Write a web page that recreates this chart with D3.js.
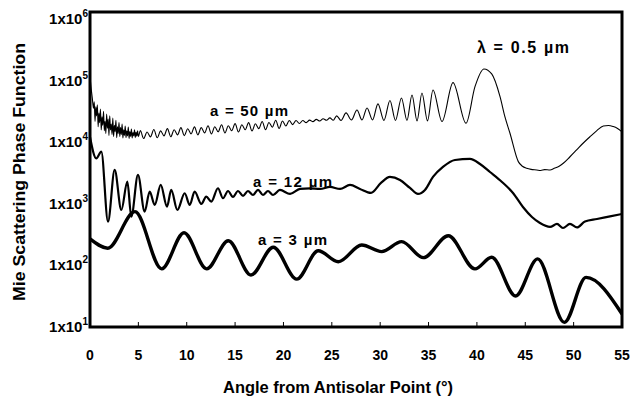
<!DOCTYPE html>
<html>
<head>
<meta charset="utf-8">
<script src="https://cdn.jsdelivr.net/npm/d3@7"></script>
<style>
  body { margin: 0; background: #fff; }
  svg text { font-family: Arial, "Liberation Sans", sans-serif; font-weight: bold; fill: #000; }
</style>
</head>
<body>
<svg id="chart" width="635" height="398"></svg>
<script>
// axis ticks
const xTicks = [0, 5, 10, 15, 20, 25, 30, 35, 40, 45, 50, 55]
const yTicks = [1e1, 1e2, 1e3, 1e4, 1e5, 1e6]

// [angle (deg), phase function]
const a3um = [
  [0, 270], [1.83, 191], [4.65, 750], [7.41, 88], [9.72, 341], [12.06, 88], [14.3, 253],
  [16.64, 70], [18.95, 198], [21.37, 60], [23.6, 174], [25.67, 115], [28.09, 215],
  [30.15, 168], [32.22, 244], [34.46, 134], [37.04, 305], [39.8, 88], [41.53, 136],
  [44.0, 32], [46.28, 128], [49.04, 11.9], [51.28, 64], [55, 16.3],
]

const a12um = [
  [0, 12300], [0.65, 5530], [1.17, 7080], [1.86, 515], [2.55, 3570], [3.24, 798], [3.86, 2305],
  [4.27, 621], [4.96, 2965], [5.65, 750], [6.17, 1585], [6.69, 964], [7.31, 2037], [7.96, 904],
  [8.4, 1690], [9.03, 798], [9.79, 1493], [10.31, 964], [10.82, 1585], [11.51, 1000],
  [12.02, 1315], [12.54, 1090], [13.23, 1800], [13.75, 1238], [14.27, 1626], [14.78, 1300],
  [15.3, 1626], [15.82, 1349], [16.33, 1626], [16.85, 1400], [17.37, 1690], [17.88, 1400],
  [18.4, 1626], [18.92, 1400], [19.64, 1690], [20.68, 1455], [21.71, 1754], [22.74, 1786],
  [23.78, 1754], [24.81, 1890], [25.85, 1754], [26.88, 2037], [27.91, 1754], [29.05, 1510],
  [30.08, 2195], [31.01, 2750], [32.05, 2455], [33.08, 1820], [33.91, 1455], [34.63, 1690],
  [35.46, 2750], [36.49, 4000], [37.73, 5190], [39.28, 5390], [40.32, 4470], [41.35, 3310],
  [42.59, 2280], [43.73, 1510], [44.76, 894], [45.69, 615], [46.52, 491], [47.56, 423],
  [48.28, 473], [48.9, 407], [49.62, 473], [50.35, 415], [51.17, 519], [52.41, 570],
  [53.76, 627], [55, 687],
]

const a50um = [
  [0, 120500], [0.12, 75000], [0.24, 52000], [0.36, 36000], [0.44, 46000], [0.52, 22000],
  [0.6, 38000], [0.68, 27000], [0.76, 41000], [0.84, 18000], [0.92, 30000], [1.0, 21000],
  [1.08, 35000], [1.16, 16000], [1.24, 26000], [1.32, 19000], [1.4, 32000], [1.48, 15500],
  [1.56, 22000], [1.64, 14000], [1.72, 29000], [1.8, 17000], [1.88, 24000], [1.96, 13000],
  [2.04, 27000], [2.12, 16000], [2.2, 20000], [2.28, 13500], [2.36, 25000], [2.44, 12500],
  [2.52, 19000], [2.6, 15000], [2.68, 23000], [2.76, 12000], [2.84, 18000], [2.92, 14000],
  [3.0, 21000], [3.08, 12500], [3.16, 17500], [3.24, 13500], [3.32, 20000], [3.4, 11800],
  [3.48, 16000], [3.56, 13000], [3.64, 18500], [3.72, 12000], [3.8, 15500], [3.88, 12800],
  [3.96, 17800], [4.04, 11600], [4.12, 15000], [4.2, 12500], [4.28, 16500], [4.36, 11800],
  [4.44, 14500], [4.52, 12800], [4.6, 16000], [4.68, 12000], [4.76, 14800], [4.84, 12600],
  [4.92, 15500], [5.0, 12400], [5.2, 15600], [5.55, 11600], [5.9, 14800], [6.25, 12300],
  [6.6, 16200], [6.95, 11900], [7.3, 15400], [7.65, 12800], [8.0, 16800], [8.35, 12400],
  [8.7, 16100], [9.05, 13300], [9.4, 17400], [9.75, 12900], [10.1, 16700], [10.45, 13800],
  [10.8, 17900], [11.15, 13300], [11.5, 17400], [11.85, 14300], [12.2, 18700], [12.55, 13800],
  [12.9, 18000], [13.25, 14900], [13.6, 19400], [13.95, 14300], [14.3, 18700], [14.65, 15500],
  [15.0, 20200], [15.35, 14800], [15.7, 19400], [16.05, 16100], [16.4, 21000], [16.75, 15400],
  [17.1, 20100], [17.45, 16800], [17.8, 21900], [18.15, 16100], [18.5, 21100], [18.85, 17700],
  [19.2, 23000], [19.55, 16900], [19.9, 22300], [20.25, 18500], [20.6, 22700], [20.95, 19500],
  [21.3, 22800], [21.65, 20300], [22.0, 22800], [22.35, 21000], [22.7, 23100], [23.05, 21800],
  [23.4, 23700], [23.75, 22300], [24.1, 24300], [24.45, 22900], [24.8, 25100], [25.15, 22900],
  [25.5, 27000], [25.95, 22800], [26.47, 30200], [27.03, 23200], [27.6, 33700], [28.12, 23200],
  [28.64, 36400], [29.21, 23200], [29.77, 42300], [30.39, 22800], [31.01, 48200], [31.58, 22800],
  [32.2, 52900], [32.77, 22800], [33.29, 59200], [33.81, 22400], [34.32, 63800], [34.89, 22400],
  [35.46, 71400], [36.39, 21900], [37.53, 93800], [38.87, 20500], [39.8, 80700], [40.73, 156700],
  [41.53, 130000], [42.39, 55600], [42.9, 26000], [43.42, 14100], [44.28, 4880], [44.7, 4100],
  [45.15, 3800], [45.6, 3650], [46.18, 3570], [46.6, 3500], [47.0, 3620], [47.56, 3570],
  [48.0, 3800], [48.5, 4100], [48.93, 4590], [49.6, 5800], [50.31, 7560], [51.0, 9800],
  [51.69, 12400], [52.4, 15600], [53.07, 18500], [53.6, 18900], [54.1, 18100], [54.5, 17000],
  [54.97, 15000],
]

const width = 635
const height = 398
const margin = { top: 12, right: 13, bottom: 71, left: 90 }

const svg = d3.select('#chart')

const x = d3.scaleLinear()
  .domain([0, 55])
  .range([margin.left, width - margin.right])

const y = d3.scaleLog()
  .domain([10, 1.32e6])
  .range([height - margin.bottom, margin.top])

svg.append('defs').append('clipPath').attr('id', 'plot')
  .append('rect')
    .attr('x', margin.left).attr('y', margin.top)
    .attr('width', width - margin.left - margin.right)
    .attr('height', height - margin.top - margin.bottom)

const line = d3.line()
  .x((d) => x(d[0]))
  .y((d) => y(d[1]))
  .curve(d3.curveMonotoneX)

const curves = svg.append('g').attr('clip-path', 'url(#plot)')
curves.append('path').datum(a50um)
  .attr('d', line).attr('fill', 'none').attr('stroke', '#000').attr('stroke-width', 1.1)
curves.append('path').datum(a12um)
  .attr('d', line).attr('fill', 'none').attr('stroke', '#000').attr('stroke-width', 2.2)
curves.append('path').datum(a3um)
  .attr('d', line).attr('fill', 'none').attr('stroke', '#000').attr('stroke-width', 3.4)

// frame
svg.append('rect')
  .attr('x', margin.left).attr('y', margin.top)
  .attr('width', width - margin.left - margin.right)
  .attr('height', height - margin.top - margin.bottom)
  .attr('fill', 'none').attr('stroke', '#000').attr('stroke-width', 3)

// x axis: small inward ticks + labels
const xAxis = svg.append('g')
xAxis.selectAll('line').data(xTicks.slice(1, -1)).enter().append('line')
  .attr('x1', (d) => x(d)).attr('x2', (d) => x(d))
  .attr('y1', height - margin.bottom).attr('y2', height - margin.bottom - 5)
  .attr('stroke', '#000').attr('stroke-width', 1)
xAxis.selectAll('text').data(xTicks).enter().append('text')
  .attr('x', (d) => x(d)).attr('y', 360)
  .attr('text-anchor', 'middle').attr('font-size', 14)
  .text((d) => d)

// y axis labels 1x10^n
const yLabels = svg.append('g').selectAll('text').data(yTicks).enter().append('text')
  .attr('x', 88).attr('y', (d) => y(d) + 5)
  .attr('text-anchor', 'end').attr('font-size', 15)
yLabels.append('tspan').text('1x10')
yLabels.append('tspan').attr('dy', -7).attr('font-size', 10).text((d) => Math.round(Math.log10(d)))

// axis titles
svg.append('text')
  .attr('x', 338).attr('y', 393).attr('text-anchor', 'middle').attr('font-size', 16)
  .attr('textLength', 230).attr('lengthAdjust', 'spacingAndGlyphs')
  .text('Angle from Antisolar Point (°)')
svg.append('text')
  .attr('transform', 'translate(25,172) rotate(-90)').attr('text-anchor', 'middle').attr('font-size', 16)
  .attr('textLength', 258).attr('lengthAdjust', 'spacingAndGlyphs')
  .text('Mie Scattering Phase Function')

// curve annotations
const notes = [
  { text: 'a = 50 µm', x: 210, y: 116, w: 78, size: 15 },
  { text: 'a = 12 µm', x: 253, y: 187, w: 79, size: 15 },
  { text: 'a = 3 µm', x: 258, y: 245, w: 69, size: 15 },
  { text: 'λ = 0.5 µm', x: 477, y: 53, w: 92, size: 16 },
]
svg.append('g').selectAll('text').data(notes).enter().append('text')
  .attr('x', (d) => d.x).attr('y', (d) => d.y)
  .attr('font-size', (d) => d.size)
  .attr('textLength', (d) => d.w).attr('lengthAdjust', 'spacing')
  .text((d) => d.text)
</script>
</body>
</html>
